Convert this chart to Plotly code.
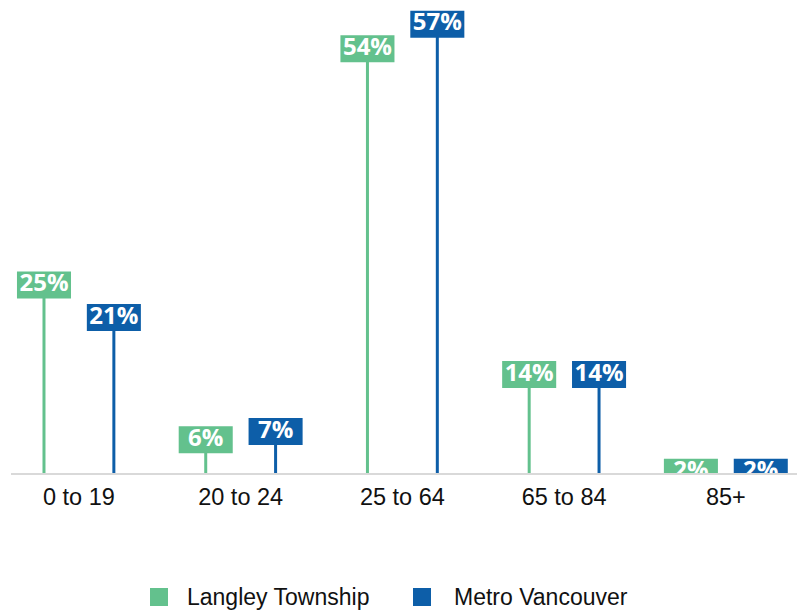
import plotly.graph_objects as go

# Age distribution (% of population)
age_groups = ["0 to 19", "20 to 24", "25 to 64", "65 to 84", "85+"]
langley = [25, 6, 54, 14, 2]
metro = [21, 7, 57, 14, 2]
series_names = ["Langley Township", "Metro Vancouver"]
series_colors = ["#63C18D", "#0D5EA8"]

# Plot area in pixels
W, H = 801, 610
L, R, T, B = 11, 4, 5, 137
PW, PH = W - L - R, H - T - B

offset = 0.216  # horizontal shift of each series from the category centre
y_range = [1.92, 59.37]

fig = go.Figure()

for values, color, shift in zip([langley, metro], series_colors, [-offset, offset]):
    xs = [i + shift for i in range(len(values))]
    # vertical stems from the baseline up to each value
    lx, ly = [], []
    for x, v in zip(xs, values):
        lx += [x, x, None]
        ly += [0, v, None]
    fig.add_trace(go.Scatter(
        x=lx, y=ly, mode="lines",
        line=dict(color=color, width=3),
        hoverinfo="skip", showlegend=False, cliponaxis=True,
    ))
    # value tags: a wide stroked marker forms the box, with the label on top
    fig.add_trace(go.Scatter(
        x=xs, y=values, mode="markers+text",
        marker=dict(symbol="line-ew", size=38.6,
                    line=dict(color=color, width=27)),
        text=[f"{v}%" for v in values],
        textposition="middle center",
        textfont=dict(family="Open Sans", size=24, color="white", weight="bold"),
        showlegend=False, cliponaxis=True,
    ))


def px_x(px):
    return (px - L) / PW


def px_y(py):
    return (H - B - py) / PH


# legend row
legend_items = [(150, 185), (413, 452)]
for (sq_x, txt_x), name, color in zip(legend_items, series_names, series_colors):
    fig.add_shape(type="rect", xref="paper", yref="paper",
                  x0=px_x(sq_x), x1=px_x(sq_x + 18),
                  y0=px_y(606), y1=px_y(588),
                  fillcolor=color, line=dict(width=0))
    fig.add_annotation(x=px_x(txt_x), y=px_y(597), xref="paper", yref="paper",
                       text=name, showarrow=False, xanchor="left", yanchor="middle",
                       font=dict(family="Liberation Sans", size=23, color="#111111"))

fig.update_layout(
    width=W, height=H,
    margin=dict(l=L, r=R, t=T, b=B),
    paper_bgcolor="white", plot_bgcolor="white",
    showlegend=False,
    xaxis=dict(
        range=[-0.42, 4.44],
        tickmode="array", tickvals=list(range(len(age_groups))), ticktext=age_groups,
        tickfont=dict(family="Liberation Sans", size=23.5, color="#111111"),
        ticklabelstandoff=2,
        showgrid=False, zeroline=False,
        showline=True, linecolor="#D9D9D9", linewidth=2,
        ticks="", fixedrange=True,
    ),
    yaxis=dict(
        range=y_range, visible=False, showgrid=False, zeroline=False, fixedrange=True,
    ),
)

fig.write_html("out.html")
